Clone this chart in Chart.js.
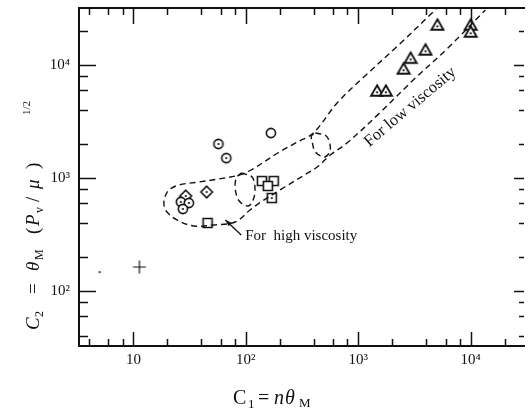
<!DOCTYPE html>
<html lang="en">
<head>
  <meta charset="UTF-8">
  <title>C1 vs C2</title>
  <script src="https://cdn.jsdelivr.net/npm/chart.js"></script>
  <style>
    body { margin: 0; background: #ffffff; }
    #wrap { width: 529px; height: 416px; }
  </style>
</head>
<body>
  <div id="wrap"><canvas id="chart" width="529" height="416"></canvas></div>

  <script>
    // Axis ticks (log decades) and their labels
    const xMajorTicks = [10, 100, 1000, 10000];
    const xTickLabels = ['10', '10²', '10³', '10⁴'];
    const yMajorTicks = [100, 1000, 10000];
    const yTickLabels = ['10²', '10³', '10⁴'];
    const minorSteps = [2, 4, 6, 8];

    // Measured points, C1 (x) and C2 (y)
    const dotCircleX = [57, 67, 26.4, 31.1, 27.5];
    const dotCircleY = [2000, 1500, 614, 601, 532];
    const dotDiamondX = [29.2, 44.8];
    const dotDiamondY = [693, 752];
    const openCircleX = [167];
    const openCircleY = [2500];
    const squareX = [139, 177, 157, 45.7];
    const squareY = [940, 940, 850, 400];
    const dotSquareX = [170];
    const dotSquareY = [665];
    const triangleX = [5060, 10000, 10000, 3960, 2920, 2530, 1470, 1760];
    const triangleY = [22600, 22600, 19600, 13600, 11500, 9230, 5890, 5890];
    const plusX = [11.3];
    const plusY = [163];
    const speckX = [5.0];
    const speckY = [147];

    // Dashed envelope: upper edge (left to right), left tip, lower edge (left to right)
    const upperX = [19.1, 20.7, 25.4, 38.1, 57.1, 87.3, 111.3, 192.4, 288, 399, 648, 1120, 2186, 4624, 5300];
    const upperY = [680, 783, 867, 921, 980, 1063, 1177, 1665, 2083, 2502, 4610, 7830, 14430, 29440, 34000];
    const tipX = [18.7];
    const tipY = [577];
    const lowerX = [19.9, 24.4, 34.4, 51.6, 80.5, 109, 136, 222, 332, 432, 563, 794, 1549, 3083, 6010, 13520];
    const lowerY = [500, 425, 376, 384, 408, 521, 613, 832, 1063, 1251, 1598, 2040, 3760, 7360, 13570, 30670];

    // Dashed rings where the band bends
    const ring1X = [90.9, 113.6, 120.7, 115.9, 104.8, 87.3, 80.5, 82.2, 90.9];
    const ring1Y = [1107, 1020, 799, 639, 565, 626, 799, 1000, 1107];
    const ring2X = [415, 519, 563, 551, 498, 415, 391, 383, 415];
    const ring2Y = [2502, 2353, 1920, 1665, 1534, 1699, 2040, 2353, 2502];

    // Annotations, in data units
    const highText = { x: 98.6, y: 307, label: 'For  high viscosity' };
    const highArrow = { fromX: 90.9, fromY: 313, toX: 65.8, toY: 425 };
    const lowText = { x: 2900, y: 4250, label: 'For low viscosity', angle: -40 };

    const serif = '"Liberation Serif", "DejaVu Serif", serif';
    const ink = '#111111';

    const pts = (xs, ys) => xs.map((x, i) => ({ x: x, y: ys[i] }));

    // small canvases used as point styles
    const marker = (kind, dot) => {
      const c = document.createElement('canvas');
      c.width = 16; c.height = 16;
      const g = c.getContext('2d');
      g.strokeStyle = ink;
      g.fillStyle = '#fff';
      g.lineWidth = 1.6;
      let cy = 8;
      g.beginPath();
      if (kind === 'circle') g.arc(8, 8, 4.6, 0, Math.PI * 2);
      if (kind === 'diamond') { g.moveTo(8, 2.2); g.lineTo(13.8, 8); g.lineTo(8, 13.8); g.lineTo(2.2, 8); g.closePath(); }
      if (kind === 'square') g.rect(3.5, 3.5, 9, 9);
      if (kind === 'triangle') { g.lineWidth = 1.9; g.moveTo(8, 2.3); g.lineTo(14, 12.7); g.lineTo(2, 12.7); g.closePath(); cy = 9.3; }
      if (kind === 'plus') { g.lineWidth = 1.2; g.moveTo(8, 1.5); g.lineTo(8, 14.5); g.moveTo(1.5, 8); g.lineTo(14.5, 8); }
      if (kind === 'speck') { g.fillStyle = ink; g.arc(8, 8, 1, 0, Math.PI * 2); g.fill(); return c; }
      if (kind !== 'plus') g.fill();
      g.stroke();
      if (dot) {
        g.fillStyle = ink;
        g.beginPath();
        g.arc(8, cy, 1.1, 0, Math.PI * 2);
        g.fill();
      }
      return c;
    };

    const pointSet = (xs, ys, style) => ({
      data: pts(xs, ys),
      pointStyle: style,
      pointRadius: 5,
      showLine: false
    });

    const dashed = (data) => ({
      data: data,
      showLine: true,
      pointRadius: 0,
      borderColor: ink,
      borderWidth: 1.4,
      borderDash: [6, 4],
      tension: 0.35,
      fill: false,
      clip: 0
    });

    const envelope = pts(upperX, upperY).reverse()
      .concat(pts(tipX, tipY))
      .concat(pts(lowerX, lowerY));

    // text pieces placed at given offsets along the baseline
    const drawPieces = (ctx, pieces) => {
      pieces.forEach(p => {
        ctx.font = p.font;
        ctx.fillText(p.t, p.at, p.dy || 0);
      });
    };

    const noPadding = (axis) => {
      axis.paddingTop = 0;
      axis.paddingBottom = 0;
      axis.paddingLeft = 0;
      axis.paddingRight = 0;
    };

    const decor = {
      id: 'decor',
      afterDatasetsDraw(chart) {
        const { ctx, scales: { x, y } } = chart;
        ctx.save();
        ctx.fillStyle = ink;
        ctx.strokeStyle = ink;

        // "For high viscosity" and its arrow
        ctx.font = '15px ' + serif;
        ctx.textBaseline = 'middle';
        ctx.textAlign = 'left';
        ctx.fillText(highText.label, x.getPixelForValue(highText.x), y.getPixelForValue(highText.y));

        const ax0 = x.getPixelForValue(highArrow.fromX), ay0 = y.getPixelForValue(highArrow.fromY);
        const ax1 = x.getPixelForValue(highArrow.toX), ay1 = y.getPixelForValue(highArrow.toY);
        const ang = Math.atan2(ay1 - ay0, ax1 - ax0);
        ctx.lineWidth = 1.3;
        ctx.beginPath();
        ctx.moveTo(ax0, ay0);
        ctx.lineTo(ax1, ay1);
        ctx.stroke();
        ctx.beginPath();
        ctx.moveTo(ax1, ay1);
        ctx.lineTo(ax1 - 7 * Math.cos(ang - 0.35), ay1 - 7 * Math.sin(ang - 0.35));
        ctx.lineTo(ax1 - 7 * Math.cos(ang + 0.35), ay1 - 7 * Math.sin(ang + 0.35));
        ctx.closePath();
        ctx.fill();

        // "For low viscosity", rotated along the band
        ctx.save();
        ctx.translate(x.getPixelForValue(lowText.x), y.getPixelForValue(lowText.y));
        ctx.rotate(lowText.angle * Math.PI / 180);
        ctx.textAlign = 'center';
        ctx.font = '16.5px ' + serif;
        ctx.fillText(lowText.label, 0, 0);
        ctx.restore();
        ctx.restore();
      },
      afterDraw(chart) {
        const { ctx, chartArea: a, scales: { x, y } } = chart;
        ctx.save();
        ctx.strokeStyle = ink;
        ctx.fillStyle = ink;

        // frame (left, top, bottom; right edge is cut off)
        ctx.lineWidth = 2;
        ctx.beginPath();
        ctx.moveTo(a.right + 2, a.top);
        ctx.lineTo(a.left, a.top);
        ctx.lineTo(a.left, a.bottom);
        ctx.lineTo(a.right + 2, a.bottom);
        ctx.stroke();

        // inward tick marks on all four sides
        const decades = [1].concat(xMajorTicks);
        ctx.lineWidth = 1.5;
        ctx.beginPath();
        decades.forEach(d => {
          const vals = [[d, true]].concat(minorSteps.map(m => [d * m, false]));
          vals.forEach(([v, major]) => {
            if (v > x.min && v < x.max) {
              const px = Math.round(x.getPixelForValue(v)) + 0.5;
              ctx.moveTo(px, a.bottom);
              ctx.lineTo(px, a.bottom - (major ? 14 : 7));
              ctx.moveTo(px, a.top);
              ctx.lineTo(px, a.top + (major ? 16 : 7));
            }
            if (v > y.min && v < y.max) {
              const py = Math.round(y.getPixelForValue(v)) + 0.5;
              ctx.moveTo(a.left, py);
              ctx.lineTo(a.left + (major ? 17 : 9), py);
              ctx.moveTo(a.right + 1, py);
              ctx.lineTo(a.right + 1 - (major ? 10 : 5), py);
            }
          });
        });
        ctx.stroke();

        // axis titles
        ctx.textAlign = 'left';
        ctx.textBaseline = 'alphabetic';
        ctx.save();
        ctx.translate(233, 404);
        drawPieces(ctx, [
          { t: 'C', at: 0, font: '20px ' + serif },
          { t: '1', at: 15, font: '13px ' + serif, dy: 4 },
          { t: '=', at: 25, font: '20px ' + serif },
          { t: 'n', at: 41, font: 'italic 20px ' + serif },
          { t: 'θ', at: 52, font: 'italic 20px ' + serif },
          { t: 'M', at: 66, font: '13px ' + serif, dy: 3 }
        ]);
        ctx.restore();

        ctx.translate(39, 330);
        ctx.rotate(-Math.PI / 2);
        drawPieces(ctx, [
          { t: 'C', at: 0, font: 'italic 19px ' + serif },
          { t: '2', at: 13, font: '12px ' + serif, dy: 4 },
          { t: '=', at: 36, font: '19px ' + serif },
          { t: 'θ', at: 59, font: 'italic 19px ' + serif },
          { t: 'M', at: 70, font: '12px ' + serif, dy: 4 },
          { t: '(', at: 96, font: '19px ' + serif },
          { t: 'P', at: 104, font: 'italic 19px ' + serif },
          { t: 'v', at: 117, font: '12px ' + serif, dy: 4 },
          { t: '/', at: 128, font: '19px ' + serif },
          { t: 'μ', at: 141, font: 'italic 19px ' + serif },
          { t: ')', at: 161, font: '19px ' + serif },
          { t: '1/2', at: 215, font: '11px ' + serif, dy: -9 }
        ]);
        ctx.restore();
      }
    };

    new Chart(document.getElementById('chart'), {
      type: 'scatter',
      data: {
        datasets: [
          dashed(envelope),
          dashed(pts(ring1X, ring1Y)),
          dashed(pts(ring2X, ring2Y)),
          pointSet(dotCircleX, dotCircleY, marker('circle', true)),
          pointSet(dotDiamondX, dotDiamondY, marker('diamond', true)),
          pointSet(openCircleX, openCircleY, marker('circle', false)),
          pointSet(squareX, squareY, marker('square', false)),
          pointSet(dotSquareX, dotSquareY, marker('square', true)),
          pointSet(triangleX, triangleY, marker('triangle', true)),
          pointSet(plusX, plusY, marker('plus', false)),
          pointSet(speckX, speckY, marker('speck', false))
        ]
      },
      options: {
        responsive: false,
        animation: false,
        layout: { padding: { top: 8, right: 1, left: 0, bottom: 0 } },
        plugins: {
          legend: { display: false },
          tooltip: { enabled: false }
        },
        scales: {
          x: {
            type: 'logarithmic',
            min: 3.28,
            max: 29200,
            grid: { display: false, drawTicks: false },
            border: { display: false },
            afterBuildTicks: (axis) => { axis.ticks = xMajorTicks.map(v => ({ value: v })); },
            afterFit: (axis) => { axis.height = 70; noPadding(axis); },
            ticks: {
              autoSkip: false,
              maxRotation: 0,
              padding: 5,
              color: ink,
              font: { family: serif, size: 15 },
              callback: (v) => xTickLabels[xMajorTicks.indexOf(v)]
            }
          },
          y: {
            type: 'logarithmic',
            min: 32.6,
            max: 31950,
            grid: { display: false, drawTicks: false },
            border: { display: false },
            afterBuildTicks: (axis) => { axis.ticks = yMajorTicks.map(v => ({ value: v })); },
            afterFit: (axis) => { axis.width = 79; noPadding(axis); },
            ticks: {
              autoSkip: false,
              padding: 9,
              color: ink,
              font: { family: serif, size: 15 },
              callback: (v) => yTickLabels[yMajorTicks.indexOf(v)]
            }
          }
        }
      },
      plugins: [decor]
    });
  </script>
</body>
</html>
